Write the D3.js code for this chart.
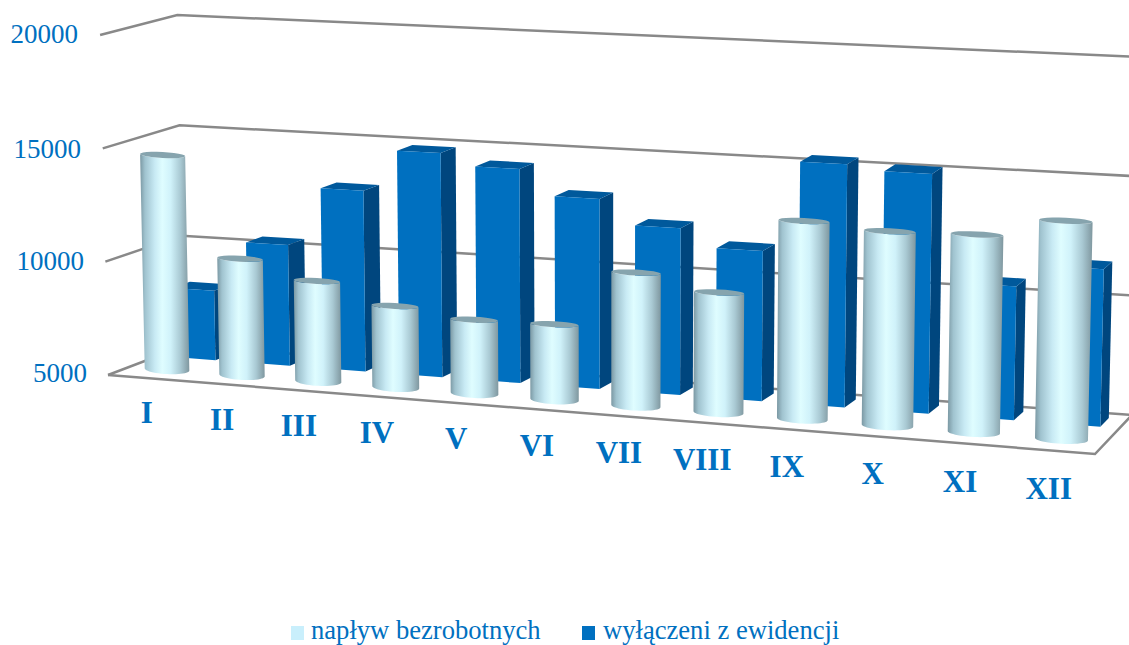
<!DOCTYPE html>
<html><head><meta charset="utf-8">
<script src="https://cdn.jsdelivr.net/npm/d3@7"></script>
<style>html,body{margin:0;padding:0;background:#fff;overflow:hidden}svg{display:block}text{font-family:"Liberation Serif",serif}</style>
</head><body><svg id="c" width="1129" height="645"></svg>
<script>
const categories=["I","II","III","IV","V","VI","VII","VIII","IX","X","XI","XII"];
const inflow=[14500,10130,9380,8530,8180,8230,10680,10080,13330,13130,13230,14030];
const outflow=[8100,10350,12950,14800,14300,13200,12150,11400,15300,15100,10600,11550];
const valueTicks=[5000,10000,15000,20000];
const seriesNames=["napływ bezrobotnych","wyłączeni z ewidencji"];
const seriesColors=["#c9effc","#0070c0"];
const blue="#0070c0",blueSide="#00467e",blueTop="#00599c",grid="#898989";

const svg=d3.select("#c");
// floor quad of the 3D box: front-left, front-right, back-right, back-left
const q=[[108,375],[1095,454],[1132,415],[184,346]];
const [[x0,y0],[x1,y1],[x2,y2],[x3,y3]]=q;
const dx1=x1-x2,dx2=x3-x2,dy1=y1-y2,dy2=y3-y2,sx=x0-x1+x2-x3,sy=y0-y1+y2-y3,den=dx1*dy2-dx2*dy1;
const G=(sx*dy2-dx2*sy)/den,H=(dx1*sy-sx*dy1)/den;
const A=x1-x0+G*x1,B=x3-x0+H*x3,D=y1-y0+G*y1,E=y3-y0+H*y3;
const vt=d3.scaleLinear().domain([5000,20000]).range([0,1]);
const hFront=d3.scaleLinear().domain([0,1]).range([340,366]);
const hBack=d3.scaleLinear().domain([0,1]).range([331,358]);
const warp=u=>u+0.092*u*(1-u);
function P(u,d,v){
  const w=G*u+H*d+1,fx=(A*u+B*d+x0)/w,fy=(D*u+E*d+y0)/w,t=vt(v);
  const s=hFront(u)+(hBack(u)-hFront(u))*d;
  return [fx+(fx-605)*0.0159*t,fy-s*t];
}
const band=d3.scaleBand().domain(categories).range([0,1]);
const step=band.step();
const line=d3.line();

// walls
const gGrid=svg.append("g").attr("fill","none").attr("stroke",grid).attr("stroke-width",2.5);
valueTicks.forEach(v=>{
  gGrid.append("path").attr("d",line([P(0,0,v),P(0,1,v),P(1,1,v)]));
});
gGrid.append("path").attr("d",line([P(0,0,5000),P(1,0,5000),P(1,1,5000)]));

// gradient
const defs=svg.append("defs");
const gr=defs.append("linearGradient").attr("id","cyl");
[[0,"#7b98a3"],[0.1,"#a0c3cf"],[0.3,"#c8eaf4"],[0.45,"#dffdff"],[0.62,"#d0f2fa"],[0.82,"#a9c9d3"],[1,"#7f979f"]]
 .forEach(([o,c])=>gr.append("stop").attr("offset",o).attr("stop-color",c));

// back series: boxes
const dF=0.65,dB=0.88,boxW=0.56;
const gBox=svg.append("g");
categories.forEach((c,i)=>{
  const uc=band(c)+step/2,ul=warp(uc-step*boxW/2),ur=warp(uc+step*boxW/2),v=outflow[i],b=5000;
  gBox.append("path").attr("fill",blueSide).attr("d",line([P(ur,dF,b),P(ur,dB,b),P(ur,dB,v),P(ur,dF,v)])+"Z");
  gBox.append("path").attr("fill",blueTop).attr("d",line([P(ul,dF,v),P(ur,dF,v),P(ur,dB,v),P(ul,dB,v)])+"Z");
  gBox.append("path").attr("fill",blue).attr("d",line([P(ul,dF,b),P(ur,dF,b),P(ur,dF,v),P(ul,dF,v)])+"Z");
});

// front series: cylinders
const dC=0.28,cylW=0.6,tilt=0.05;
const gCyl=svg.append("g");
function ring(cx,cy,rx,ry,a0,a1){
  return d3.range(0,25).map(k=>{
    const a=a0+(a1-a0)*k/24,px=rx*Math.cos(a),py=ry*Math.sin(a);
    return [cx+px,cy+py+px*tilt];
  });
}
categories.forEach((c,i)=>{
  const uc=band(c)+step/2,v=inflow[i],w=step*cylW/2;
  const um=warp(uc),ua=warp(uc-w),ub=warp(uc+w);
  const b0=P(um,dC,5000),t0=P(um,dC,v);
  const rb=(P(ub,dC,5000)[0]-P(ua,dC,5000)[0])/2;
  const rt=(P(ub,dC,v)[0]-P(ua,dC,v)[0])/2;
  const lower=ring(b0[0],b0[1],rb,4.6,Math.PI,0);
  const upper=ring(t0[0],t0[1],rt,3,0,Math.PI);
  gCyl.append("path").attr("fill","url(#cyl)").attr("d",line(lower.concat(upper))+"Z");
  gCyl.append("path").attr("fill","#86a4ae").attr("d",line(ring(t0[0],t0[1],rt,3,0,2*Math.PI))+"Z");
});

// value labels
const yLabelPos=d3.scaleOrdinal().domain(valueTicks).range([[87,382],[84,270],[81,158],[78,43]]);
svg.append("g").selectAll("text").data(valueTicks).join("text")
  .attr("text-anchor","end").attr("fill",blue).attr("font-size",27)
  .attr("x",d=>yLabelPos(d)[0]).attr("y",d=>yLabelPos(d)[1]).text(d=>d);

// category labels
svg.append("g").selectAll("text").data(categories).join("text")
  .attr("text-anchor","middle").attr("fill",blue).attr("font-size",31).attr("font-weight","bold")
  .attr("x",d=>{const u=band(d)+step/2;return P(warp(u),0,5000)[0]+3*(1-u)-1.5})
  .attr("y",d=>{const u=band(d)+step/2;return P(warp(u),0,5000)[1]+45+4*u})
  .text(d=>d);

// legend
const lg=svg.append("g");
[[291,311],[582,603]].forEach(([sxx,tx],i)=>{
  lg.append("rect").attr("x",sxx).attr("y",626).attr("width",13).attr("height",14).attr("fill",seriesColors[i]);
  lg.append("text").attr("x",tx).attr("y",639).attr("font-size",26.6).attr("fill",blue).text(seriesNames[i]);
});
</script></body></html>
